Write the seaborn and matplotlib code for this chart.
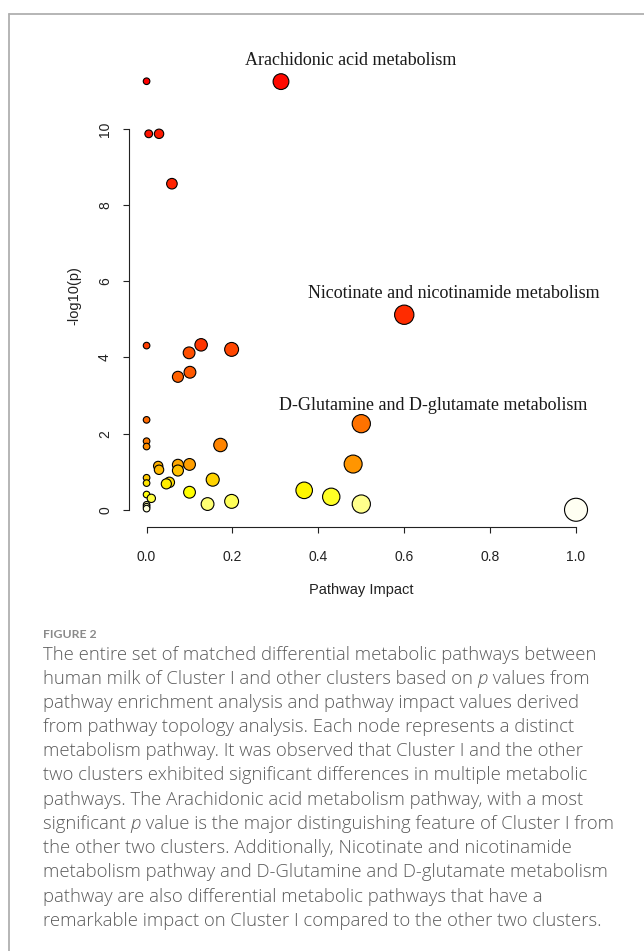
import colorsys
import numpy as np
import pandas as pd
import matplotlib
matplotlib.use("Agg")
import matplotlib.pyplot as plt
import seaborn as sns

# pathway impact (x) and -log10(p) (y), sorted by p
impact = [0.0, 0.313, 0.005, 0.029, 0.059, 0.600, 0.127, 0.0, 0.198, 0.099,
          0.101, 0.073, 0.0, 0.500, 0.0, 0.172, 0.0, 0.481, 0.100, 0.073,
          0.027, 0.029, 0.073, 0.0, 0.154, 0.053, 0.0, 0.046, 0.367, 0.100,
          0.0, 0.430, 0.011, 0.198, 0.142, 0.500, 0.0, 0.0, 0.0, 1.000]
neg_log_p = [11.25, 11.24, 9.87, 9.87, 8.56, 5.12, 4.33, 4.31, 4.21, 4.12,
             3.61, 3.49, 2.36, 2.26, 1.80, 1.70, 1.66, 1.20, 1.19, 1.18,
             1.15, 1.05, 1.03, 0.84, 0.79, 0.72, 0.70, 0.68, 0.51, 0.46,
             0.40, 0.34, 0.30, 0.22, 0.15, 0.15, 0.13, 0.08, 0.03, 0.0]

highlight_names = ["Arachidonic acid metabolism",
                   "Nicotinate and nicotinamide metabolism",
                   "D-Glutamine and D-glutamate metabolism"]
highlight_idx = [1, 5, 13]
label_offsets = [(50, 15), (36, 15), (52, 13)]  # points

x_ticks = [0.0, 0.2, 0.4, 0.6, 0.8, 1.0]
y_ticks = [0, 2, 4, 6, 8, 10]

caption_title = "FIGURE 2"
caption_lines = [
    [("The entire set of matched differential metabolic pathways between", False)],
    [("human milk of Cluster I and other clusters based on ", False), ("p", True), (" values from", False)],
    [("pathway enrichment analysis and pathway impact values derived", False)],
    [("from pathway topology analysis. Each node represents a distinct", False)],
    [("metabolism pathway. It was observed that Cluster I and the other", False)],
    [("two clusters exhibited significant differences in multiple metabolic", False)],
    [("pathways. The Arachidonic acid metabolism pathway, with a most", False)],
    [("significant ", False), ("p", True), (" value is the major distinguishing feature of Cluster I from", False)],
    [("the other two clusters. Additionally, Nicotinate and nicotinamide", False)],
    [("metabolism pathway and D-Glutamine and D-glutamate metabolism", False)],
    [("pathway are also differential metabolic pathways that have a", False)],
    [("remarkable impact on Cluster I compared to the other two clusters.", False)],
]


def heat_colors(n):
    # same as R's heat.colors()
    j = n // 4
    i = n - j
    cols = [colorsys.hsv_to_rgb(h, 1, 1) for h in np.linspace(0, 1 / 6, i)]
    if j > 0:
        sats = np.linspace(1 - 1 / (2 * j), 1 / (2 * j), j)
        cols += [colorsys.hsv_to_rgb(1 / 6, s, 1) for s in sats]
    return cols


df = pd.DataFrame({"impact": impact, "y": neg_log_p})
df["rank"] = np.arange(len(df))
palette = dict(zip(df["rank"], heat_colors(len(df))))

# circle radius grows with sqrt(impact) like MetaboAnalyst
r_min, r_max = 3.3, 11.5  # px
sizes = {v: (2 * 0.72 * (r_min + (r_max - r_min) * np.sqrt(v))) ** 2 for v in df["impact"].unique()}

sns.set_style("white")
W, H = 644, 951
fig = plt.figure(figsize=(W / 100, H / 100), dpi=100)

# axes placement (R-style plot region)
left, right, top, bottom = 129.4, 593.2, 64.1, 526.9
ax = fig.add_axes([left / W, 1 - bottom / H, (right - left) / W, (bottom - top) / H])
ax.set_facecolor("none")

sns.scatterplot(data=df, x="impact", y="y", hue="rank", palette=palette,
                size="impact", sizes=sizes, legend=False,
                edgecolor="black", linewidth=0.8, ax=ax, clip_on=False)

ax.set_xlim(-0.04, 1.04)
ax.set_ylim(-0.45, 11.70)

for name, idx, off in zip(highlight_names, highlight_idx, label_offsets):
    ax.annotate(name, xy=(df["impact"][idx], df["y"][idx]), xytext=off,
                textcoords="offset points", ha="center", va="center",
                fontsize=13, family="Liberation Serif", color="#1a1a1a",
                annotation_clip=False)

tick_font = dict(family="Liberation Sans", size=10, color="#222222")
ax.set_xticks(x_ticks)
ax.set_xticklabels([f"{t:.1f}" for t in x_ticks], **tick_font)
ax.set_yticks(y_ticks)
ax.set_yticklabels([str(t) for t in y_ticks], rotation=90, va="center", **tick_font)
ax.tick_params(axis="both", direction="out", length=4.5, width=0.8, color="#222222",
               left=True, bottom=True)
ax.tick_params(axis="x", pad=12)
ax.tick_params(axis="y", pad=8)

for s in ["top", "right"]:
    ax.spines[s].set_visible(False)
ax.spines["left"].set_bounds(0, 10)
ax.spines["bottom"].set_bounds(0, 1)
for s in ["left", "bottom"]:
    ax.spines[s].set_color("#222222")
    ax.spines[s].set_linewidth(0.8)

ax.set_xlabel("Pathway Impact", family="Liberation Sans", size=10.5, color="#222222", labelpad=14)
ax.set_ylabel("-log10(p)", family="Liberation Sans", size=10.5, color="#222222", labelpad=12)
ax.grid(False)

# outer panel frame (top and left edges)
fig.add_artist(plt.Line2D([8.5 / W, 1], [1 - 14 / H, 1 - 14 / H], color="#b0b0b0", lw=1.3))
fig.add_artist(plt.Line2D([8.5 / W, 8.5 / W], [0, 1 - 14 / H], color="#b0b0b0", lw=1.3))

# caption
fig.text(43 / W, 1 - 637.5 / H, caption_title, family="Lato", weight="bold",
         size=8.8, color="#8a8a8a", va="baseline")

renderer = fig.canvas.get_renderer()
body_font = dict(family="Open Sans", weight="light", color="#5a5a5a")

# pick the body size so the longest line spans the same width as in the figure
probe = fig.text(0, 0, "".join(s for s, _ in caption_lines[7]), size=10, **body_font)
body_size = 10 * 574 / probe.get_window_extent(renderer).width
probe.remove()

y0, dy = 659.5, 24.2
for k, line in enumerate(caption_lines):
    x = 43.0
    yb = 1 - (y0 + k * dy) / H
    for seg, ital in line:
        t = fig.text(x / W, yb, seg, style="italic" if ital else "normal",
                     size=body_size, va="baseline", **body_font)
        x += t.get_window_extent(renderer).width

fig.savefig("out.png", dpi=100, facecolor="white")
